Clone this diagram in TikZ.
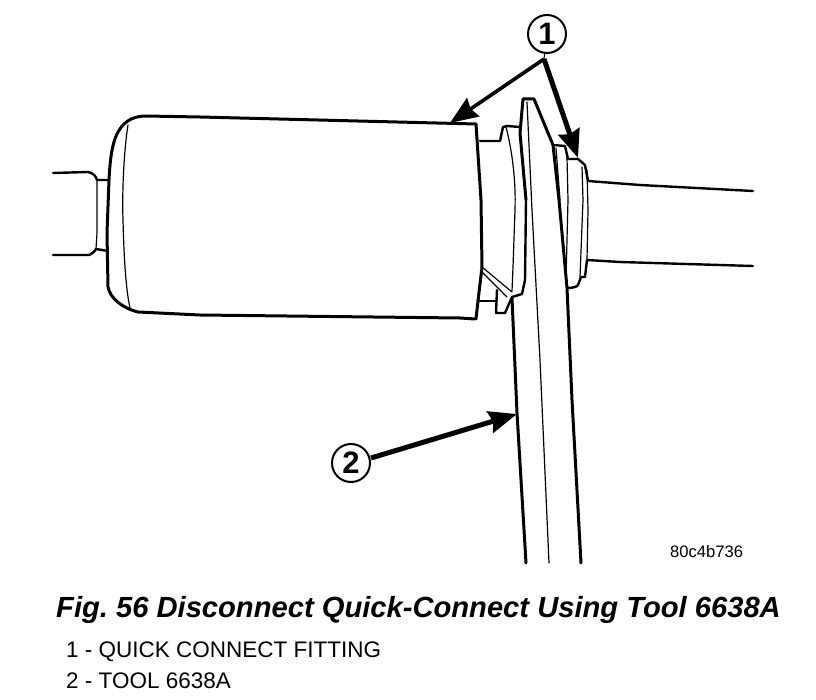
\documentclass[tikz,border=0pt]{standalone}
\usepackage{fontspec}
\setmainfont{Liberation Sans}
\usetikzlibrary{arrows.meta}
\tikzset{
  thick line/.style={line width=3pt,line join=round,line cap=round},
  mid line/.style={line width=2.4pt,line join=round,line cap=round},
  thin line/.style={line width=1.2pt,line join=round,line cap=round},
  callout/.style={circle,draw,line width=2pt,minimum size=38pt,inner sep=0pt,font=\fontsize{31}{31}\selectfont\bfseries},
  leader/.style={draw,-{Stealth[length=28pt,width=22pt,inset=3pt]}},
  plain text/.style={anchor=base west,inner sep=0pt,font=\fontsize{22.5}{22.5}\selectfont},
}
\begin{document}
\frenchspacing
\begin{tikzpicture}[x=1pt,y=-1pt]
\useasboundingbox (0,0) rectangle (816,700);
% left stub
\draw[mid line] (53,173) -- (88,172) .. controls (93,173) and (96,176) .. (97,180) -- (108,180);
\draw[mid line] (53,255) -- (89,255) .. controls (92,254) and (95,251) .. (96,249) -- (108,251);
\draw[thin line] (97,180) -- (97,233) -- (96,249);
% cylinder
\draw[thick line] (476,124) -- (200,117) -- (146,116)
  .. controls (130,116) and (122,124) .. (117,134)
  .. controls (112,144) and (110,160) .. (109,180)
  -- (107,233) -- (108,287)
  .. controls (110,298) and (122,308) .. (138,312)
  -- (200,315) -- (460,318) -- (475,319);
\draw[thin line] (128,125) .. controls (124,150) and (122,190) .. (123,220) .. controls (124,260) and (126,290) .. (130,308);
\draw[thick line] (476,124) -- (481,200) -- (482,267) -- (478,301) -- (476,319);
% left fitting
\draw[mid line] (480,141) -- (500,141) -- (503,127) -- (507,126) -- (520,127);
\draw[thin line] (506,127) .. controls (512,150) and (516,180) .. (515,210) -- (513,267) -- (512,291);
\draw[mid line] (479,301) -- (496,301);
\draw[mid line] (497,290) -- (496,313) -- (505,313) -- (512,297) -- (522,294) -- (525,280) -- (526,200);
\draw[thin line] (482,267) -- (512,292);
\draw[thin line] (482,272) -- (507,297);
% tool
\draw[thick line] (526,200) -- (520,133) -- (523,99) -- (534,99) -- (553,145) -- (559,200) -- (567,288) -- (572,400) -- (581,563);
\draw[thick line] (512,298) -- (517,413) -- (526,563);
\draw[thin line] (527,102) -- (532,210) -- (540,360) -- (549,563);
% right fitting
\draw[mid line] (553,145) -- (565,146) -- (568,159) -- (578,159) -- (585,165) -- (588,181) -- (640,185) -- (753,191);
\draw[mid line] (567,288) .. controls (572,288) and (577,287) .. (578,285) -- (581,277) -- (585,277) -- (587,260) -- (620,262) -- (753,266);
\draw[thin line] (556,148) -- (560,200);
\draw[thin line] (567,157) -- (568,200) -- (566,280);
\draw[thin line] (582,167) -- (583,200) -- (580,277);
\draw[thin line] (587,170) -- (588,210) -- (587,260);
% callouts
\node[callout] (c1) at (547,34) {1};
\node[callout] (c2) at (351,463) {2};
\coordinate (fork) at (544,59);
\coordinate (tipA) at (450,123);
\coordinate (tipB) at (578,158);
\coordinate (tipC) at (517,414);
\draw[line width=1pt] (c1) -- (fork);
\draw[leader,line width=3.6pt] (fork) -- (tipA);
\draw[leader,line width=5pt] (fork) -- (tipB);
\draw[leader,line width=5pt] (c2) ++(20,-5) -- (tipC);
% texts
\node[plain text,font=\fontsize{16.6}{16.6}\selectfont] (code) at (670,557) {80c4b736};
\node[plain text,font=\fontsize{29.15}{29.15}\selectfont\bfseries\itshape] (cap) at (56,617) {Fig. 56 Disconnect Quick-Connect Using Tool 6638A};
\node[plain text] (l1) at (66,657) {1 - QUICK CONNECT FITTING};
\node[plain text] (l2) at (66,688) {2 - TOOL 6638A};
\end{tikzpicture}
\end{document}
